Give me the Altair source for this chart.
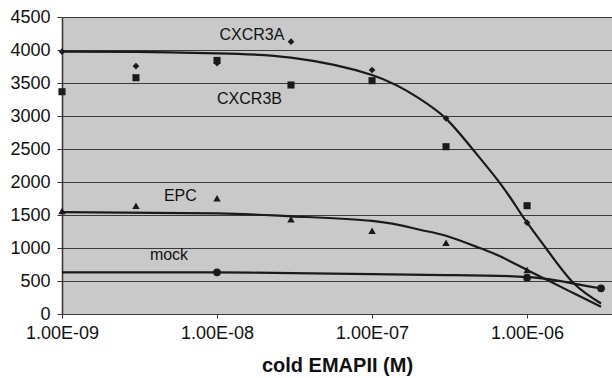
import altair as alt
import pandas as pd

# ---- data ----
conc = [1e-9, 3e-9, 1e-8, 3e-8, 1e-7, 3e-7, 1e-6]
cxcr3a = [3975, 3757, 3800, 4126, 3697, 2965, 1384]
cxcr3b = [3368, 3580, 3842, 3470, 3535, 2535, 1641]
epc = [1560, 1641, 1753, 1435, 1262, 1080, 667]
mock_conc = [1e-8, 1e-6, 3e-6]
mock = [632, 550, 389]

# fitted curves
fit_cx_x = [1e-9, 3e-9, 1e-8, 3e-8, 1e-7, 2e-7, 3e-7, 4.5e-7, 6.7e-7, 8.8e-7, 1e-6, 1.35e-6, 2e-6, 3e-6]
fit_cx_y = [3975, 3972, 3950, 3885, 3620, 3270, 2960, 2485, 1980, 1576, 1384, 970, 465, 160]
fit_epc_x = [1e-9, 1e-8, 3e-8, 1e-7, 2e-7, 3e-7, 5e-7, 6.7e-7, 1e-6, 1.35e-6, 2e-6, 3e-6]
fit_epc_y = [1545, 1525, 1480, 1410, 1280, 1185, 995, 874, 667, 515, 313, 111]
fit_mock_x = [1e-9, 1e-8, 1e-7, 3e-7, 1e-6, 2e-6, 3e-6]
fit_mock_y = [632, 630, 605, 590, 562, 460, 390]

label_text = ["CXCR3A", "CXCR3B", "EPC", "mock"]
label_x = [1.68e-8, 1.62e-8, 5.8e-9, 4.9e-9]
label_y = [4227, 3258, 1792, 894]

x_ticks = [1e-9, 1e-8, 1e-7, 1e-6]
x_tick_labels = ["1.00E-09", "1.00E-08", "1.00E-07", "1.00E-06"]
y_ticks = list(range(0, 4501, 500))

# ---- tables ----
pts = pd.concat([
    pd.DataFrame({"c": conc, "v": cxcr3a, "s": "CXCR3A"}),
    pd.DataFrame({"c": conc, "v": cxcr3b, "s": "CXCR3B"}),
    pd.DataFrame({"c": conc, "v": epc, "s": "EPC"}),
    pd.DataFrame({"c": mock_conc, "v": mock, "s": "mock"}),
])
fits = pd.concat([
    pd.DataFrame({"c": fit_cx_x, "v": fit_cx_y, "f": "CXCR3"}),
    pd.DataFrame({"c": fit_epc_x, "v": fit_epc_y, "f": "EPC"}),
    pd.DataFrame({"c": fit_mock_x, "v": fit_mock_y, "f": "mock"}),
])
labels = pd.DataFrame({"t": label_text, "c": label_x, "v": label_y})

lab_expr = " : ".join(
    f"datum.value < {t * 3.0:.3e} ? '{l}'" for t, l in zip(x_ticks[:-1], x_tick_labels[:-1])
) + f" : '{x_tick_labels[-1]}'"

FONT = "Liberation Sans"

xscale = alt.Scale(type="log", domain=[1e-9, 3.53e-6], nice=False)
yscale = alt.Scale(domain=[0, 4500], nice=False, zero=True)

xaxis = alt.Axis(
    values=x_ticks, labelExpr=lab_expr, title="cold EMAPII (M)",
    grid=False, tickSize=4, tickColor="#333333", labelPadding=6,
    labelFlush=False, labelOverlap=False,
    labelFont=FONT, labelFontSize=18, labelColor="#111111",
    titleFont=FONT, titleFontSize=20, titleFontWeight="bold", titleColor="#111111",
    titleY=57, titleBaseline="alphabetic",
    domain=False,
)
yaxis = alt.Axis(
    values=y_ticks, format="d", title=None, grid=True, gridColor="#3a3a3a", gridWidth=1.2,
    tickSize=5, tickColor="#333333", labelPadding=7, labelFlush=False, labelOverlap=False,
    labelFont=FONT, labelFontSize=18, labelColor="#111111",
    domainColor="#333333", domainWidth=1.5,
)

X = alt.X("c:Q", scale=xscale, axis=xaxis)
Y = alt.Y("v:Q", scale=yscale, axis=yaxis)

lines = alt.Chart(fits).mark_line(color="#1a1a1a", strokeWidth=2.2, interpolate="natural").encode(
    x=X, y=Y, detail="f:N"
)

points = alt.Chart(pts).mark_point(filled=True, opacity=1, color="#1a1a1a").encode(
    x=X, y=Y,
    shape=alt.Shape("s:N", scale=alt.Scale(
        domain=["CXCR3A", "CXCR3B", "EPC", "mock"],
        range=["diamond", "square", "triangle-up", "circle"]), legend=None),
    size=alt.Size("s:N", scale=alt.Scale(
        domain=["CXCR3A", "CXCR3B", "EPC", "mock"],
        range=[45, 60, 55, 35]), legend=None),
)

texts = alt.Chart(labels).mark_text(font=FONT, fontSize=16, color="#111111").encode(
    x=X, y=Y, text="t:N"
)

chart = alt.layer(lines, points, texts).properties(
    width=550, height=297,
    autosize=alt.AutoSizeParams(type="none"),
    padding={"left": 62, "top": 17, "right": 0, "bottom": 64},
    background="white",
).configure_view(fill="#c9c9c9", stroke=None)

chart.save("out.html", embed_options={"renderer": "svg", "actions": False})
